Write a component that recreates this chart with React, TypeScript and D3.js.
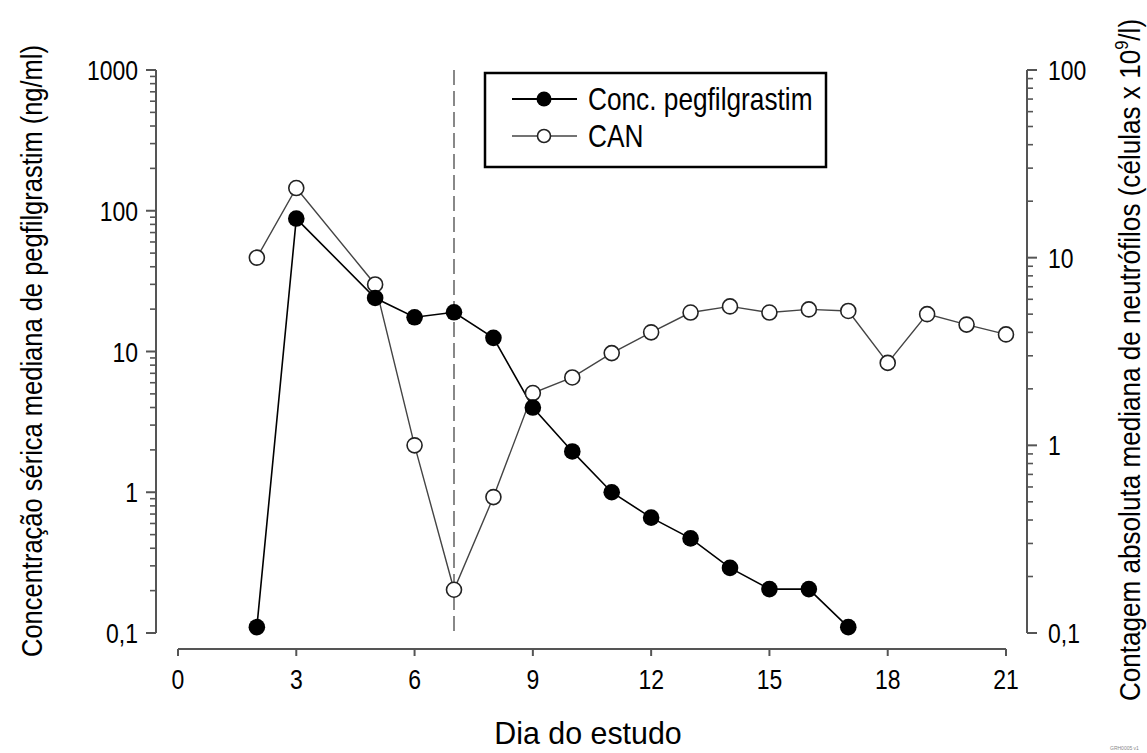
import React from "react";
import * as d3 from "d3";

const pegDays = [2, 3, 5, 6, 7, 8, 9, 10, 11, 12, 13, 14, 15, 16, 17];
const pegValues = [0.11, 88, 24, 17.5, 19, 12.5, 4.0, 1.95, 1.0, 0.66, 0.47, 0.29, 0.205, 0.205, 0.11];
const canDays = [2, 3, 5, 6, 7, 8, 9, 10, 11, 12, 13, 14, 15, 16, 17, 18, 19, 20, 21];
const canValues = [10, 23.5, 7.2, 1.0, 0.17, 0.53, 1.9, 2.3, 3.1, 4.0, 5.1, 5.5, 5.1, 5.3, 5.2, 2.75, 5.0, 4.4, 3.9];
const xTicks = [0, 3, 6, 9, 12, 15, 18, 21];
const leftTicks = [0.1, 1, 10, 100, 1000];
const rightTicks = [0.1, 1, 10, 100];
const fmt = (v: number) => (v < 1 ? String(v).replace(".", ",") : String(v));

const FONT = "'Liberation Sans', Arial, sans-serif";
const SX = 0.82;

function minorTicks(lo: number, hi: number) {
  const out: number[] = [];
  for (let d = lo; d < hi; d *= 10) for (let k = 2; k <= 9; k++) out.push(d * k);
  return out;
}

function T({ x, y, rot = 0, anchor = "start", size = 28, sx = SX, children, dy = "0" }: any) {
  return (
    <text
      transform={`translate(${x},${y}) rotate(${rot}) scale(${sx},1)`}
      textAnchor={anchor}
      fontFamily={FONT}
      fontSize={size}
      dy={dy}
      fill="#000"
    >
      {children}
    </text>
  );
}

export default function App() {
  const x = d3.scaleLinear().domain([0, 21]).range([178, 1006]);
  const yL = d3.scaleLog().domain([0.1, 1000]).range([633, 70]);
  const yR = d3.scaleLog().domain([0.1, 100]).range([633, 70]);
  const axisColor = "#555";

  const pegLine = d3
    .line<number>()
    .x((_, i) => x(pegDays[i]))
    .y((v) => yL(v))(pegValues) as string;
  const canLine = d3
    .line<number>()
    .x((_, i) => x(canDays[i]))
    .y((v) => yR(v))(canValues) as string;

  const xl = 156;
  const xr = 1027;
  const yb = 649;

  return (
    <svg
      width={1147}
      height={753}
      style={{ position: "absolute", left: 0, top: 0, background: "#fff" }}
    >
      <rect width={1147} height={753} fill="#fff" />
      {/* left axis */}
      <line x1={xl} x2={xl} y1={yL(1000)} y2={yL(0.1)} stroke={axisColor} strokeWidth={2} />
      {leftTicks.map((t) => (
        <g key={"lt" + t}>
          <line x1={xl - 10} x2={xl} y1={yL(t)} y2={yL(t)} stroke={axisColor} strokeWidth={2} />
          <T x={xl - 18} y={yL(t)} anchor="end" dy="0.36em">{fmt(t)}</T>
        </g>
      ))}
      {minorTicks(0.1, 1000).map((t) => (
        <line key={"lm" + t} x1={xl - 6} x2={xl} y1={yL(t)} y2={yL(t)} stroke={axisColor} strokeWidth={1.6} />
      ))}
      {/* right axis */}
      <line x1={xr} x2={xr} y1={yR(100)} y2={yR(0.1)} stroke={axisColor} strokeWidth={2} />
      {rightTicks.map((t) => (
        <g key={"rt" + t}>
          <line x1={xr} x2={xr + 10} y1={yR(t)} y2={yR(t)} stroke={axisColor} strokeWidth={2} />
          <T x={xr + 21} y={yR(t)} anchor="start" dy="0.36em">{fmt(t)}</T>
        </g>
      ))}
      {minorTicks(0.1, 100).map((t) => (
        <line key={"rm" + t} x1={xr} x2={xr + 6} y1={yR(t)} y2={yR(t)} stroke={axisColor} strokeWidth={1.6} />
      ))}
      {/* bottom axis */}
      <line x1={x(0)} x2={x(21)} y1={yb} y2={yb} stroke={axisColor} strokeWidth={2} />
      {xTicks.map((t) => (
        <g key={"xt" + t}>
          <line x1={x(t)} x2={x(t)} y1={yb} y2={yb + 7} stroke={axisColor} strokeWidth={2} />
          <T x={x(t)} y={689} anchor="middle">{String(t)}</T>
        </g>
      ))}
      {/* titles */}
      <T x={588} y={744} anchor="middle" size={31} sx={0.98}>Dia do estudo</T>
      <T x={42} y={351} rot={-90} anchor="middle" size={30} sx={0.85}>Concentração sérica mediana de pegfilgrastim (ng/ml)</T>
      <text
        transform={`translate(1140,360) rotate(-90) scale(0.87,1)`}
        textAnchor="middle"
        fontFamily={FONT}
        fontSize={30}
      >
        Contagem absoluta mediana de neutrófilos (células x 10
        <tspan fontSize={19} dy={-12}>9</tspan>
        <tspan dy={12}>/l)</tspan>
      </text>
      {/* vertical dashed line at day 7 */}
      <line x1={x(7)} x2={x(7)} y1={70} y2={633} stroke="#888" strokeWidth={2} strokeDasharray="15,6" />
      {/* series */}
      <path d={canLine} fill="none" stroke="#444" strokeWidth={1.4} />
      <path d={pegLine} fill="none" stroke="#000" strokeWidth={1.6} />
      {canValues.map((v, i) => (
        <circle key={"c" + i} cx={x(canDays[i])} cy={yR(v)} r={7.5} fill="#fff" stroke="#222" strokeWidth={1.6} />
      ))}
      {pegValues.map((v, i) => (
        <circle key={"p" + i} cx={x(pegDays[i])} cy={yL(v)} r={8.3} fill="#000" />
      ))}
      {/* legend */}
      <rect x={485} y={73} width={341} height={94} fill="#fff" stroke="#000" strokeWidth={2.5} />
      <line x1={512} x2={577} y1={99} y2={99} stroke="#000" strokeWidth={1.8} />
      <circle cx={544} cy={99} r={7.5} fill="#000" />
      <T x={588} y={110} size={32}>Conc. pegfilgrastim</T>
      <line x1={512} x2={577} y1={136} y2={136} stroke="#444" strokeWidth={1.4} />
      <circle cx={544} cy={136} r={6.5} fill="#fff" stroke="#222" strokeWidth={1.6} />
      <T x={588} y={147} size={32}>CAN</T>
      <text x={1110} y={750} fontFamily={FONT} fontSize={5} fill="#888">GRH0005 v1</text>
    </svg>
  );
}
